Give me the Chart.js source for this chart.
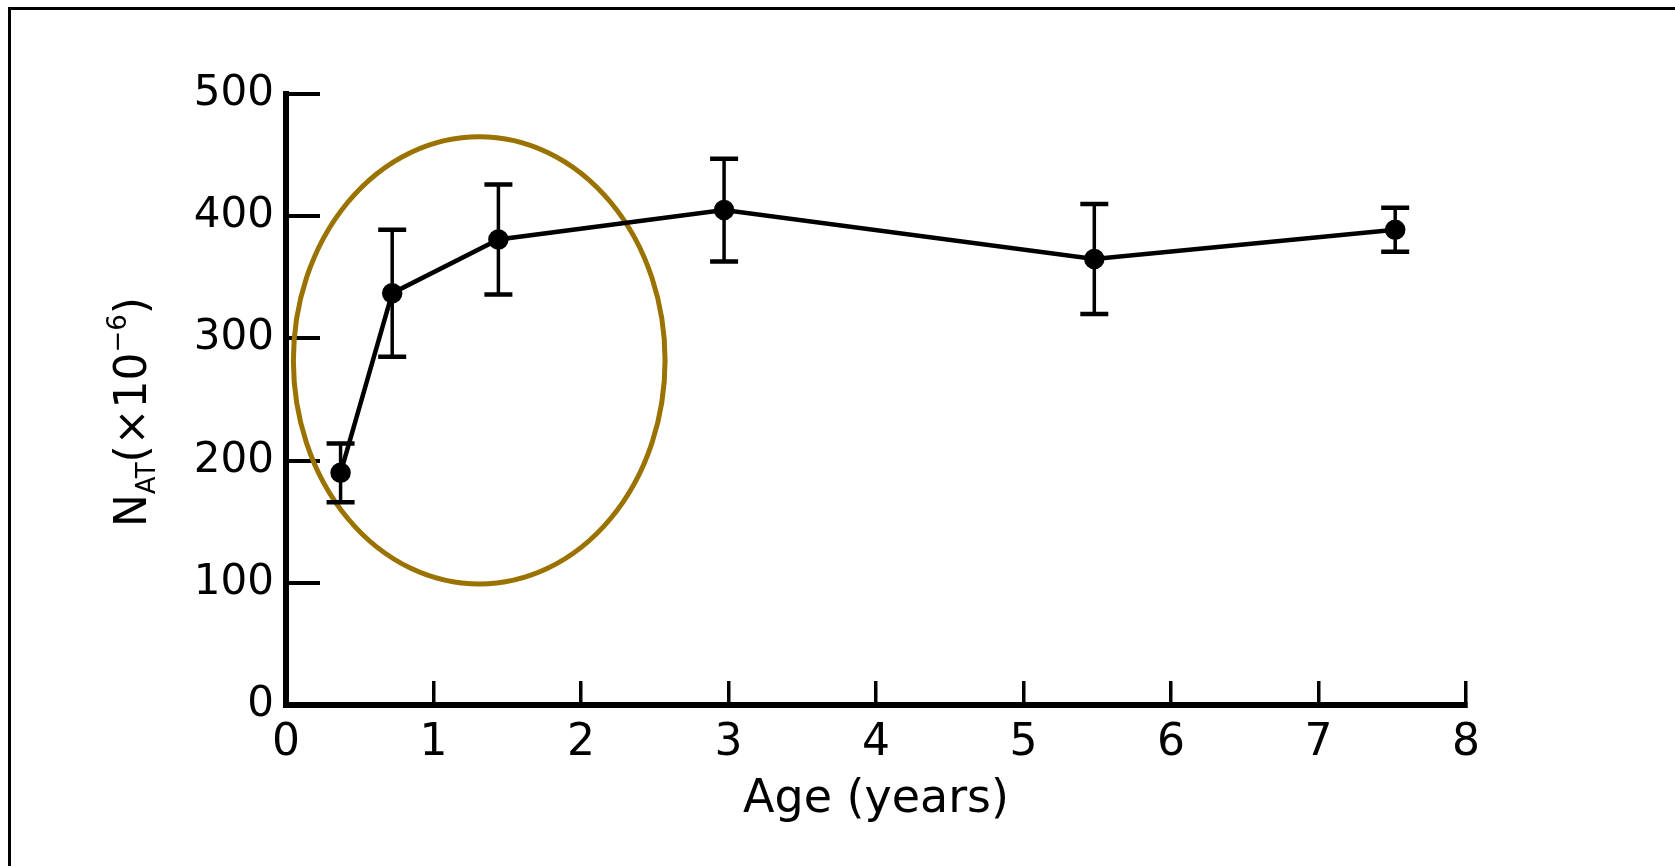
<!DOCTYPE html>
<html>
<head>
<meta charset="utf-8">
<script src="https://cdn.jsdelivr.net/npm/chart.js@4.4.1/dist/chart.umd.min.js"></script>
<style>
  html, body { margin: 0; padding: 0; background: #fff; }
  #wrap { position: relative; width: 1675px; height: 866px; }
  #frame { position: absolute; left: 8px; top: 7px; right: 0; bottom: 0;
           border-top: 3px solid #000; border-left: 3px solid #000; pointer-events: none; }
</style>
</head>
<body>
<div id="wrap">
  <canvas id="chart" width="1675" height="866"></canvas>
  <div id="frame"></div>
</div>
<script>
// data
const ages = [0.37, 0.72, 1.44, 2.97, 5.48, 7.52];
const values = [190, 337, 381, 405, 365, 389];
const errors = [24, 52, 45, 42, 45, 18];
const xTicks = [0, 1, 2, 3, 4, 5, 6, 7, 8];
const yTicks = [0, 100, 200, 300, 400, 500];

// highlight ellipse, in data units
const ellipseCenter = [1.31, 282];
const ellipseRadius = [1.26, 183];

const points = ages.map((a, i) => ({ x: a, y: values[i] }));

// vertical error bars with caps
const errorBars = {
  id: 'errorBars',
  afterDatasetsDraw(chart) {
    const { ctx, scales: { x, y } } = chart;
    ctx.save();
    ctx.strokeStyle = '#000';
    ages.forEach((a, i) => {
      const px = x.getPixelForValue(a);
      const top = y.getPixelForValue(values[i] + errors[i]);
      const bot = y.getPixelForValue(values[i] - errors[i]);
      ctx.lineWidth = 3.5;
      ctx.beginPath();
      ctx.moveTo(px, top);
      ctx.lineTo(px, bot);
      ctx.stroke();
      ctx.lineWidth = 4.5;
      ctx.beginPath();
      ctx.moveTo(px - 14, top); ctx.lineTo(px + 14, top);
      ctx.moveTo(px - 14, bot); ctx.lineTo(px + 14, bot);
      ctx.stroke();
    });
    ctx.restore();
  }
};

const ellipse = {
  id: 'ellipse',
  beforeDatasetsDraw(chart) {
    const { ctx, scales: { x, y } } = chart;
    const cx = x.getPixelForValue(ellipseCenter[0]);
    const cy = y.getPixelForValue(ellipseCenter[1]);
    const rx = x.getPixelForValue(ellipseCenter[0] + ellipseRadius[0]) - cx;
    const ry = cy - y.getPixelForValue(ellipseCenter[1] + ellipseRadius[1]);
    ctx.save();
    ctx.strokeStyle = '#9A7200';
    ctx.lineWidth = 5;
    ctx.beginPath();
    ctx.ellipse(cx, cy, rx, ry, 0, 0, Math.PI * 2);
    ctx.stroke();
    ctx.restore();
  }
};

// y title with subscript / superscript: N_AT (x10^-6)
const yTitle = {
  id: 'yTitle',
  afterDraw(chart) {
    const { ctx } = chart;
    const parts = [
      { t: 'N', s: 44, dy: 0 },
      { t: 'AT', s: 26, dy: 9 },
      { t: '(×10', s: 44, dy: 0 },
      { t: '−6', s: 26, dy: -20 },
      { t: ')', s: 44, dy: 0 }
    ];
    ctx.save();
    ctx.translate(130, 412);
    ctx.rotate(-Math.PI / 2);
    ctx.fillStyle = '#000';
    ctx.textBaseline = 'alphabetic';
    let total = 0;
    parts.forEach(p => {
      ctx.font = p.s + 'px "DejaVu Sans"';
      p.w = ctx.measureText(p.t).width;
      total += p.w;
    });
    let cx = -total / 2;
    parts.forEach(p => {
      ctx.font = p.s + 'px "DejaVu Sans"';
      ctx.fillText(p.t, cx, 16 + p.dy);
      cx += p.w;
    });
    ctx.restore();
  }
};

new Chart(document.getElementById('chart'), {
  type: 'line',
  data: {
    datasets: [{
      data: points,
      borderColor: '#000',
      backgroundColor: '#000',
      borderWidth: 4.5,
      tension: 0,
      pointRadius: 8,
      pointHoverRadius: 8
    }]
  },
  options: {
    responsive: false,
    animation: false,
    layout: { padding: { left: 0, top: 94, right: 209, bottom: 0 } },
    plugins: { legend: { display: false }, tooltip: { enabled: false } },
    scales: {
      x: {
        type: 'linear',
        min: 0, max: 8,
        afterBuildTicks: s => { s.ticks = xTicks.map(v => ({ value: v })); },
        afterFit: s => { s.height = 161; },
        border: { display: true, width: 6, color: '#000' },
        grid: { drawOnChartArea: false, drawTicks: true, tickLength: -24, lineWidth: 3.5, color: '#000' },
        ticks: { color: '#000', padding: 36, font: { family: 'DejaVu Sans', size: 44 }, maxRotation: 0 },
        title: {
          display: true, text: 'Age (years)', color: '#000',
          font: { family: 'DejaVu Sans', size: 46 }, padding: { top: 0, bottom: 38 }
        }
      },
      y: {
        min: 0, max: 500,
        afterBuildTicks: s => { s.ticks = yTicks.map(v => ({ value: v })); },
        afterFit: s => { s.width = 286; },
        border: { display: true, width: 6, color: '#000' },
        grid: { drawOnChartArea: false, drawTicks: true, tickLength: -34, lineWidth: 4, color: '#000' },
        ticks: { color: '#000', padding: 46, font: { family: 'DejaVu Sans', size: 42 } }
      }
    }
  },
  plugins: [ellipse, errorBars, yTitle]
});
</script>
</body>
</html>
